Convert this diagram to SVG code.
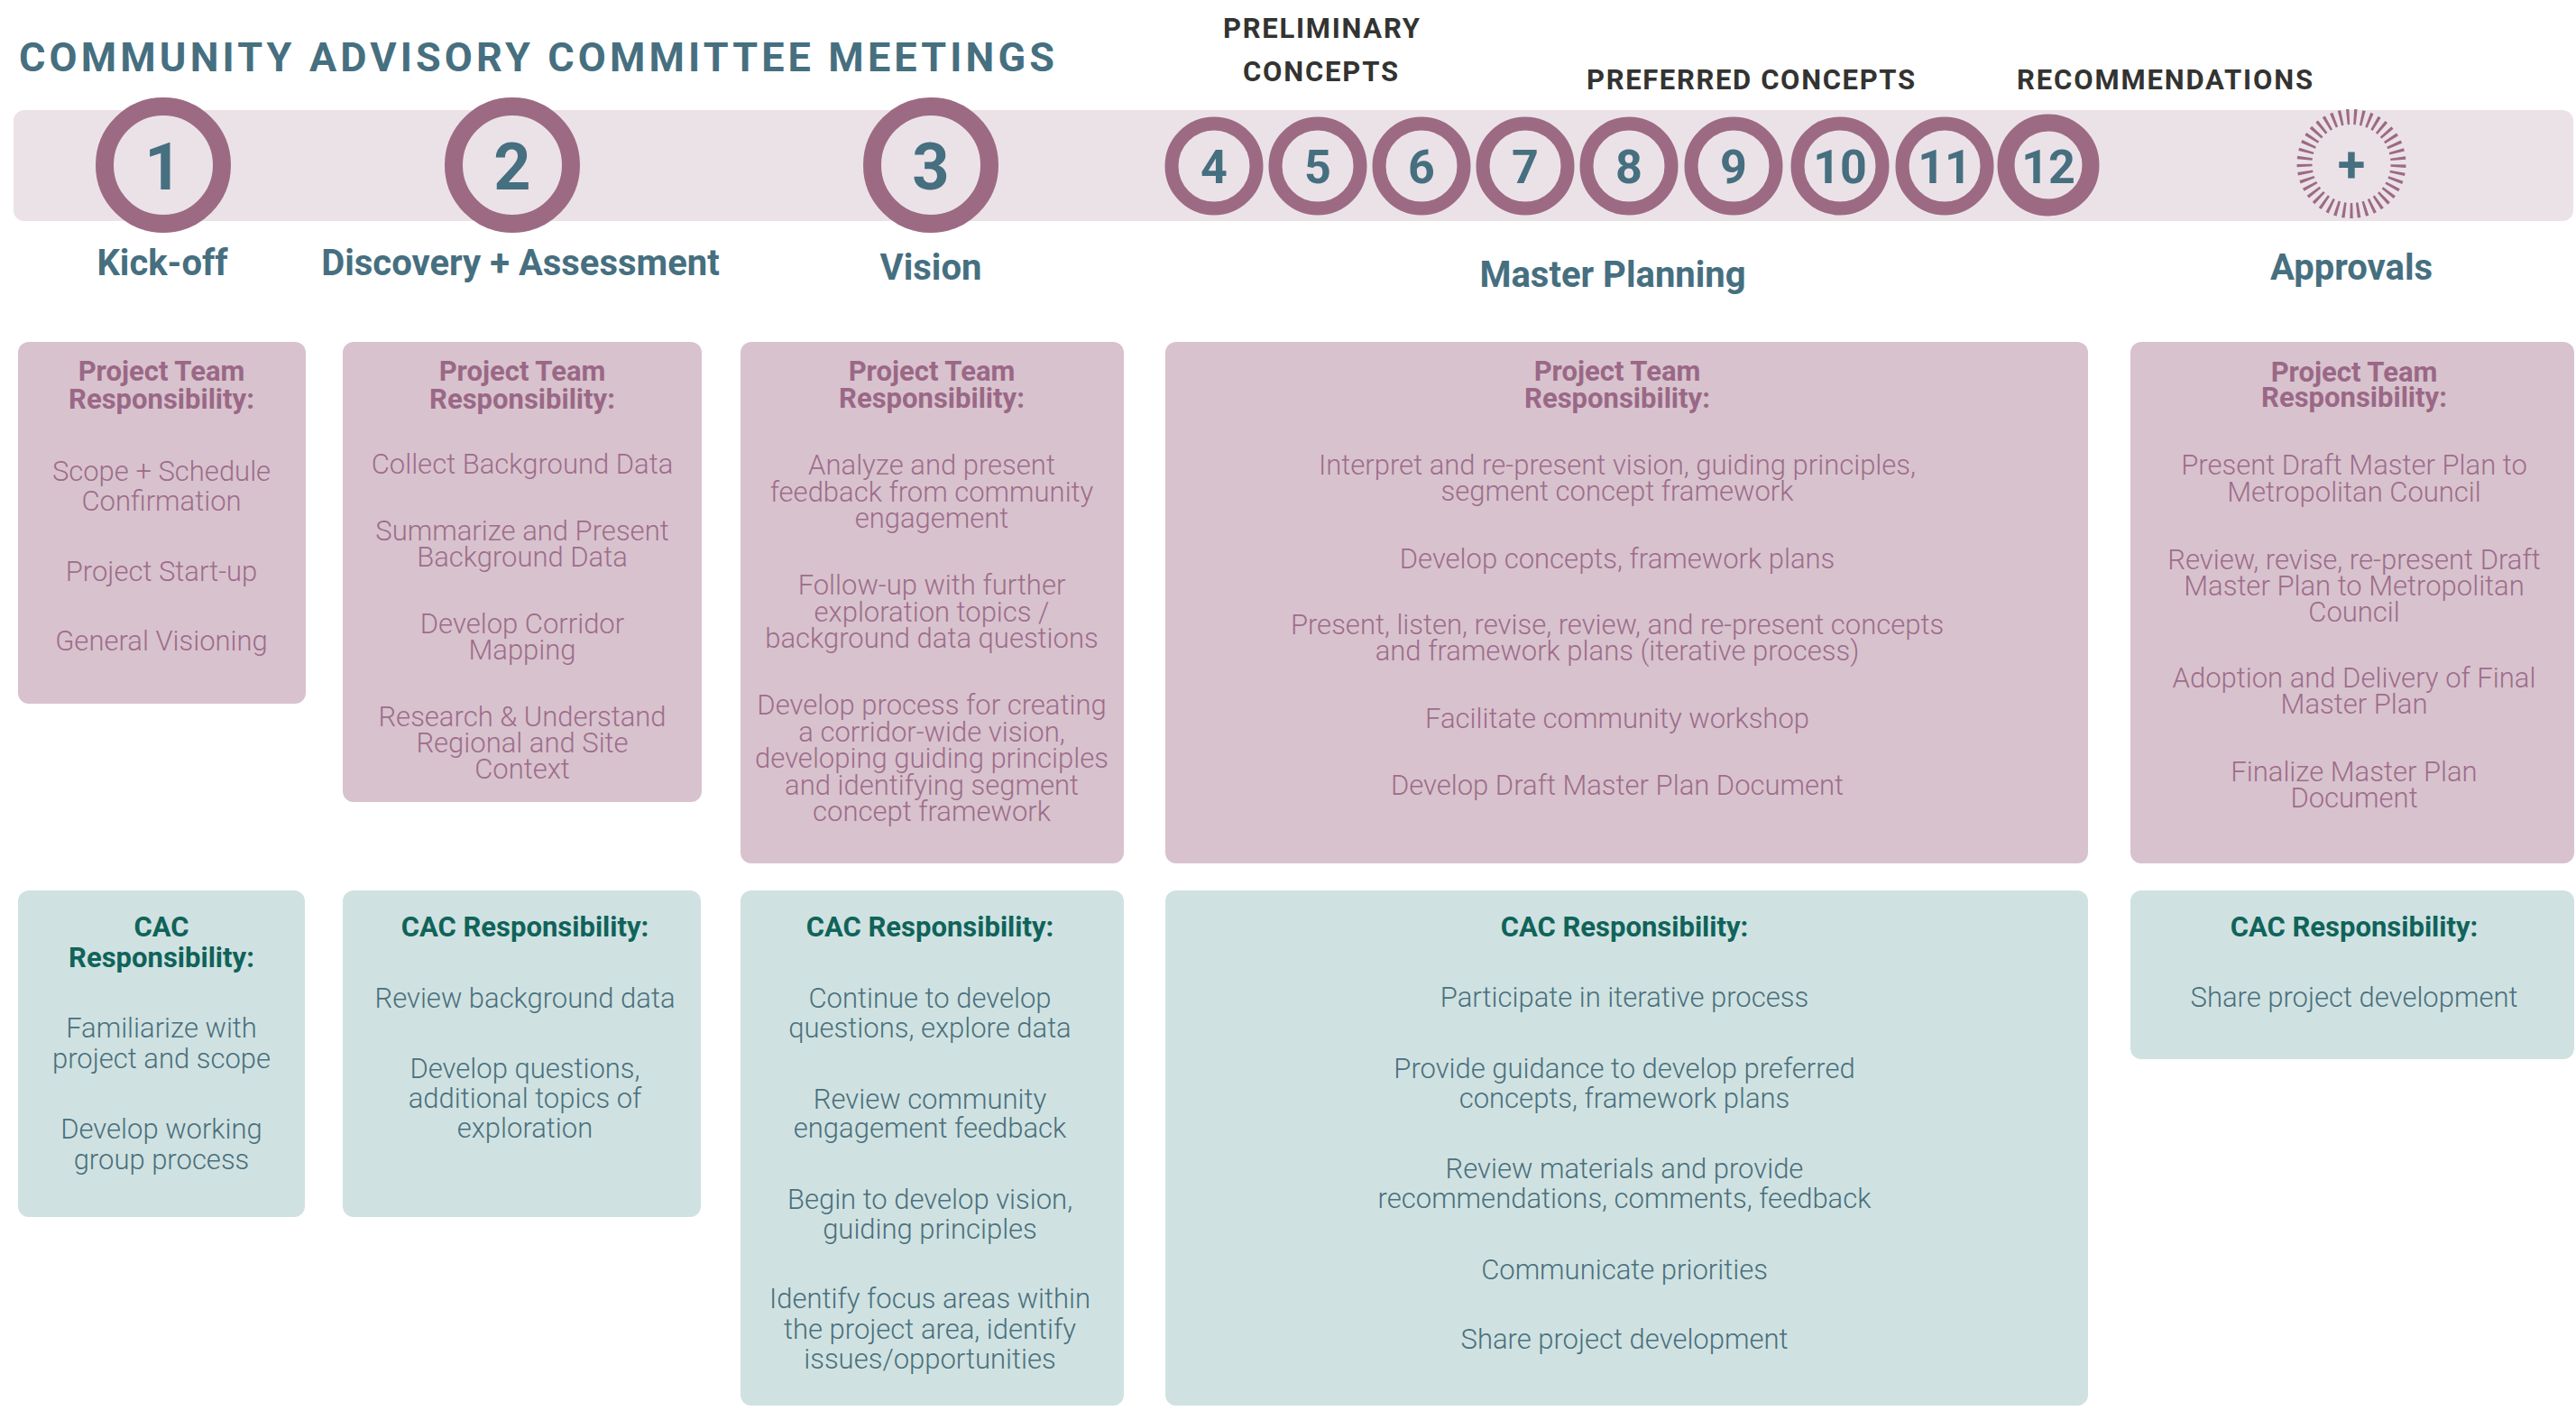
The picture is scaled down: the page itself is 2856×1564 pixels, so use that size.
<svg xmlns="http://www.w3.org/2000/svg" width="2856" height="1564" viewBox="0 0 2856 1564">
<style>
text{font-family:Roboto,"Liberation Sans",sans-serif}
.ring{fill:none;stroke:#9d6a84}
.num{font-weight:700;fill:#466f80;text-anchor:middle}
.phase{font-weight:700;font-size:40px;fill:#466f80;text-anchor:middle}
.hdr{font-weight:700;font-size:31px;fill:#333331}
.pt{fill:#d8c2ce}
.cac{fill:#cfe2e1}
.ptt{font-weight:700;font-size:31px;fill:#9a6886;text-anchor:middle}
.ptb{font-weight:300;font-size:31px;fill:#9d6d8a;text-anchor:middle}
.ct{font-weight:700;font-size:31px;fill:#10635a;text-anchor:middle}
.cb{font-weight:300;font-size:31px;fill:#4b6f7d;text-anchor:middle}
</style>
<rect width="2856" height="1564" fill="#ffffff"/>
<text x="21" y="79" font-size="45" font-weight="700" fill="#466f80" textLength="1148" lengthAdjust="spacing">COMMUNITY ADVISORY COMMITTEE MEETINGS</text>
<g id="headers">
<text class="hdr" x="1356" y="42" textLength="218" lengthAdjust="spacing">PRELIMINARY</text>
<text class="hdr" x="1378" y="90" textLength="172" lengthAdjust="spacing">CONCEPTS</text>
<text class="hdr" x="1759" y="99" textLength="364" lengthAdjust="spacing">PREFERRED CONCEPTS</text>
<text class="hdr" x="2236" y="99" textLength="328" lengthAdjust="spacing">RECOMMENDATIONS</text>
</g>
<rect id="band" x="15" y="122" width="2838" height="123" rx="12" fill="#ebe2e7"/>
<g id="meetings">
<g id="m1"><circle class="ring" cx="181" cy="183" r="65" stroke-width="20"/><text class="num" x="181" y="210" font-size="72">1</text></g>
<g id="m2"><circle class="ring" cx="568" cy="183" r="65" stroke-width="20"/><text class="num" x="568" y="210" font-size="72">2</text></g>
<g id="m3"><circle class="ring" cx="1032" cy="183" r="65" stroke-width="20"/><text class="num" x="1032" y="210" font-size="72">3</text></g>
<g id="m4"><circle class="ring" cx="1346" cy="184" r="47" stroke-width="15"/><text class="num" x="1346" y="203" font-size="52">4</text></g>
<g id="m5"><circle class="ring" cx="1461" cy="184" r="47" stroke-width="15"/><text class="num" x="1461" y="203" font-size="52">5</text></g>
<g id="m6"><circle class="ring" cx="1576" cy="184" r="47" stroke-width="15"/><text class="num" x="1576" y="203" font-size="52">6</text></g>
<g id="m7"><circle class="ring" cx="1691" cy="184" r="47" stroke-width="15"/><text class="num" x="1691" y="203" font-size="52">7</text></g>
<g id="m8"><circle class="ring" cx="1806" cy="184" r="47" stroke-width="15"/><text class="num" x="1806" y="203" font-size="52">8</text></g>
<g id="m9"><circle class="ring" cx="1922" cy="184" r="47" stroke-width="15"/><text class="num" x="1922" y="203" font-size="52">9</text></g>
<g id="m10"><circle class="ring" cx="2040" cy="184" r="47" stroke-width="15"/><text class="num" x="2040" y="203" font-size="52">10</text></g>
<g id="m11"><circle class="ring" cx="2156" cy="184" r="47" stroke-width="15"/><text class="num" x="2156" y="203" font-size="52">11</text></g>
<g id="m12"><circle class="ring" cx="2271" cy="183" r="47" stroke-width="19"/><text class="num" x="2271" y="203" font-size="52">12</text></g>
<g id="mplus"><circle cx="2607" cy="181.5" r="52" fill="none" stroke="#9d6a84" stroke-width="17" stroke-dasharray="3 4.968" transform="rotate(88.35 2607 181.5)"/><text class="num" x="2607" y="201" font-size="56">+</text></g>
</g>
<g id="phases">
<text class="phase" x="180" y="305">Kick-off</text>
<text class="phase" x="577" y="305">Discovery + Assessment</text>
<text class="phase" x="1032" y="310">Vision</text>
<text class="phase" x="1788" y="318">Master Planning</text>
<text class="phase" x="2607" y="310">Approvals</text>
</g>
<g id="pt1"><rect class="pt" x="20" y="379" width="319" height="401" rx="12"/>
<text class="ptt" x="179"><tspan x="179" y="422">Project Team</tspan><tspan x="179" y="453">Responsibility:</tspan></text>
<text class="ptb"><tspan x="179" y="533">Scope + Schedule</tspan><tspan x="179" y="566">Confirmation</tspan><tspan x="179" y="644">Project Start-up</tspan><tspan x="179" y="721">General Visioning</tspan></text>
</g>
<g id="pt2"><rect class="pt" x="380" y="379" width="398" height="510" rx="12"/>
<text class="ptt"><tspan x="579" y="422">Project Team</tspan><tspan x="579" y="453">Responsibility:</tspan></text>
<text class="ptb"><tspan x="579" y="525">Collect Background Data</tspan><tspan x="579" y="599">Summarize and Present</tspan><tspan x="579" y="628">Background Data</tspan><tspan x="579" y="702">Develop Corridor</tspan><tspan x="579" y="731">Mapping</tspan><tspan x="579" y="805">Research &amp; Understand</tspan><tspan x="579" y="834">Regional and Site</tspan><tspan x="579" y="863">Context</tspan></text>
</g>
<g id="pt3"><rect class="pt" x="821" y="379" width="425" height="578" rx="12"/>
<text class="ptt"><tspan x="1033" y="422">Project Team</tspan><tspan x="1033" y="452">Responsibility:</tspan></text>
<text class="ptb"><tspan x="1033" y="526">Analyze and present</tspan><tspan x="1033" y="555.5">feedback from community</tspan><tspan x="1033" y="585">engagement</tspan><tspan x="1033" y="659">Follow-up with further</tspan><tspan x="1033" y="688.5">exploration topics /</tspan><tspan x="1033" y="718">background data questions</tspan><tspan x="1033" y="792">Develop process for creating</tspan><tspan x="1033" y="822">a corridor-wide vision,</tspan><tspan x="1033" y="851">developing guiding principles</tspan><tspan x="1033" y="881">and identifying segment</tspan><tspan x="1033" y="910">concept framework</tspan></text>
</g>
<g id="pt4"><rect class="pt" x="1292" y="379" width="1023" height="578" rx="12"/>
<text class="ptt"><tspan x="1793" y="422">Project Team</tspan><tspan x="1793" y="452">Responsibility:</tspan></text>
<text class="ptb"><tspan x="1793" y="526">Interpret and re-present vision, guiding principles,</tspan><tspan x="1793" y="555">segment concept framework</tspan><tspan x="1793" y="630">Develop concepts, framework plans</tspan><tspan x="1793" y="703">Present, listen, revise, review, and re-present concepts</tspan><tspan x="1793" y="732">and framework plans (iterative process)</tspan><tspan x="1793" y="807">Facilitate community workshop</tspan><tspan x="1793" y="881">Develop Draft Master Plan Document</tspan></text>
</g>
<g id="pt5"><rect class="pt" x="2362" y="379" width="492" height="578" rx="12"/>
<text class="ptt"><tspan x="2610" y="423">Project Team</tspan><tspan x="2610" y="451">Responsibility:</tspan></text>
<text class="ptb"><tspan x="2610" y="526">Present Draft Master Plan to</tspan><tspan x="2610" y="556">Metropolitan Council</tspan><tspan x="2610" y="631">Review, revise, re-present Draft</tspan><tspan x="2610" y="660">Master Plan to Metropolitan</tspan><tspan x="2610" y="689">Council</tspan><tspan x="2610" y="762">Adoption and Delivery of Final</tspan><tspan x="2610" y="791">Master Plan</tspan><tspan x="2610" y="866">Finalize Master Plan</tspan><tspan x="2610" y="895">Document</tspan></text>
</g>
<g id="cac1"><rect class="cac" x="20" y="987" width="318" height="362" rx="12"/>
<text class="ct"><tspan x="179" y="1038">CAC</tspan><tspan x="179" y="1072">Responsibility:</tspan></text>
<text class="cb"><tspan x="179" y="1150">Familiarize with</tspan><tspan x="179" y="1184">project and scope</tspan><tspan x="179" y="1262">Develop working</tspan><tspan x="179" y="1296">group process</tspan></text>
</g>
<g id="cac2"><rect class="cac" x="380" y="987" width="397" height="362" rx="12"/>
<text class="ct"><tspan x="582" y="1038">CAC Responsibility:</tspan></text>
<text class="cb"><tspan x="582" y="1117">Review background data</tspan><tspan x="582" y="1195">Develop questions,</tspan><tspan x="582" y="1228">additional topics of</tspan><tspan x="582" y="1261">exploration</tspan></text>
</g>
<g id="cac3"><rect class="cac" x="821" y="987" width="425" height="571" rx="12"/>
<text class="ct"><tspan x="1031" y="1038">CAC Responsibility:</tspan></text>
<text class="cb"><tspan x="1031" y="1117">Continue to develop</tspan><tspan x="1031" y="1150">questions, explore data</tspan><tspan x="1031" y="1229">Review community</tspan><tspan x="1031" y="1261">engagement feedback</tspan><tspan x="1031" y="1340">Begin to develop vision,</tspan><tspan x="1031" y="1373">guiding principles</tspan><tspan x="1031" y="1450">Identify focus areas within</tspan><tspan x="1031" y="1484">the project area, identify</tspan><tspan x="1031" y="1517">issues/opportunities</tspan></text>
</g>
<g id="cac4"><rect class="cac" x="1292" y="987" width="1023" height="571" rx="12"/>
<text class="ct"><tspan x="1801" y="1038">CAC Responsibility:</tspan></text>
<text class="cb"><tspan x="1801" y="1116">Participate in iterative process</tspan><tspan x="1801" y="1195">Provide guidance to develop preferred</tspan><tspan x="1801" y="1228">concepts, framework plans</tspan><tspan x="1801" y="1306">Review materials and provide</tspan><tspan x="1801" y="1339">recommendations, comments, feedback</tspan><tspan x="1801" y="1418">Communicate priorities</tspan><tspan x="1801" y="1495">Share project development</tspan></text>
</g>
<g id="cac5"><rect class="cac" x="2362" y="987" width="492" height="187" rx="12"/>
<text class="ct"><tspan x="2610" y="1038">CAC Responsibility:</tspan></text>
<text class="cb"><tspan x="2610" y="1116">Share project development</tspan></text>
</g>
<g id="connectors"/>
</svg>
